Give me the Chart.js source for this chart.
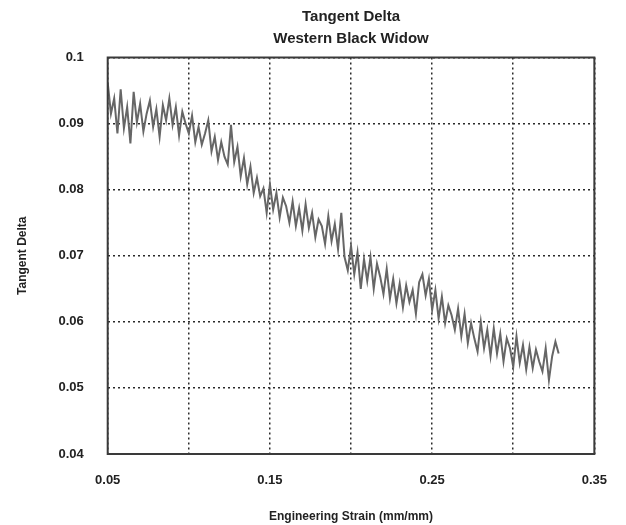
<!DOCTYPE html>
<html>
<head>
<meta charset="utf-8">
<script src="https://cdn.jsdelivr.net/npm/chart.js@4/dist/chart.umd.min.js"></script>
<style>
  html, body { margin: 0; padding: 0; background: #fff; }
  #wrap { width: 626px; height: 525px; }
</style>
</head>
<body>
<div id="wrap"><canvas id="chart"></canvas></div>
<script>
// engineering strain (mm/mm)
const strain = [
  0.050, 0.052, 0.054, 0.056, 0.058, 0.060, 0.062, 0.064, 0.066, 0.068,
  0.070, 0.072, 0.074, 0.076, 0.078, 0.080, 0.082, 0.084, 0.086, 0.088,
  0.090, 0.092, 0.094, 0.096, 0.098, 0.100, 0.102, 0.104, 0.106, 0.108,
  0.110, 0.112, 0.114, 0.116, 0.118, 0.120, 0.122, 0.124, 0.126, 0.128,
  0.130, 0.132, 0.134, 0.136, 0.138, 0.140, 0.142, 0.144, 0.146, 0.148,
  0.150, 0.152, 0.154, 0.156, 0.158, 0.160, 0.162, 0.164, 0.166, 0.168,
  0.170, 0.172, 0.174, 0.176, 0.178, 0.180, 0.182, 0.184, 0.186, 0.188,
  0.190, 0.192, 0.194, 0.196, 0.198, 0.200, 0.202, 0.204, 0.206, 0.208,
  0.210, 0.212, 0.214, 0.216, 0.218, 0.220, 0.222, 0.224, 0.226, 0.228,
  0.230, 0.232, 0.234, 0.236, 0.238, 0.240, 0.242, 0.244, 0.246, 0.248,
  0.250, 0.252, 0.254, 0.256, 0.258, 0.260, 0.262, 0.264, 0.266, 0.268,
  0.270, 0.272, 0.274, 0.276, 0.278, 0.280, 0.282, 0.284, 0.286, 0.288,
  0.290, 0.292, 0.294, 0.296, 0.298, 0.300, 0.302, 0.304, 0.306, 0.308,
  0.310, 0.312, 0.314, 0.316, 0.318, 0.320, 0.322, 0.324, 0.326, 0.328
];

// tangent delta values
const tanDelta = [
  0.0962, 0.0915, 0.0938, 0.0885, 0.0952, 0.0893, 0.0925, 0.0870, 0.0948, 0.0902,
  0.0930, 0.0888, 0.0915, 0.0935, 0.0895, 0.0922, 0.0880, 0.0928, 0.0905, 0.0938,
  0.0898, 0.0925, 0.0882, 0.0918, 0.0900, 0.0885, 0.0912, 0.0872, 0.0895, 0.0868,
  0.0885, 0.0905, 0.0858, 0.0880, 0.0845, 0.0872, 0.0850, 0.0838, 0.0898, 0.0842,
  0.0865, 0.0820, 0.0848, 0.0808, 0.0835, 0.0795, 0.0818, 0.0790, 0.0802, 0.0765,
  0.0808, 0.0770, 0.0795, 0.0758, 0.0788, 0.0775, 0.0750, 0.0782, 0.0745, 0.0772,
  0.0738, 0.0778, 0.0742, 0.0765, 0.0728, 0.0755, 0.0745, 0.0718, 0.0760, 0.0722,
  0.0748, 0.0710, 0.0765, 0.0698, 0.0678, 0.0715, 0.0672, 0.0705, 0.0650, 0.0695,
  0.0662, 0.0698, 0.0650, 0.0688, 0.0668, 0.0642, 0.0680, 0.0635, 0.0665, 0.0628,
  0.0658, 0.0622, 0.0655, 0.0630, 0.0648, 0.0612, 0.0660, 0.0672, 0.0640, 0.0665,
  0.0618, 0.0648, 0.0605, 0.0638, 0.0598, 0.0625, 0.0610, 0.0588, 0.0620, 0.0578,
  0.0612, 0.0568, 0.0598, 0.0575, 0.0555, 0.0600, 0.0560, 0.0588, 0.0548, 0.0590,
  0.0552, 0.0582, 0.0540, 0.0575, 0.0560, 0.0532, 0.0578, 0.0538, 0.0565, 0.0528,
  0.0562, 0.0530, 0.0558, 0.0540, 0.0525, 0.0560, 0.0512, 0.0548, 0.0570, 0.0552
];

// only every other x gridline gets a label
const xTickLabels = ['0.05', '0.15', '0.25', '0.35'];

const FONT = '"Liberation Sans", Arial, sans-serif';

// solid frame round the plot area
const frame = {
  id: 'frame',
  afterDatasetsDraw(chart) {
    const a = chart.chartArea;
    const ctx = chart.ctx;
    ctx.save();
    ctx.strokeStyle = '#3a3a3a';
    ctx.lineWidth = 2;
    ctx.strokeRect(a.left, a.top, a.right - a.left, a.bottom - a.top);
    ctx.restore();
  }
};

new Chart(document.getElementById('chart'), {
  type: 'line',
  data: {
    datasets: [{
      data: strain.map((x, i) => ({ x: x, y: tanDelta[i] })),
      borderColor: '#666',
      borderWidth: 2,
      pointRadius: 0,
      tension: 0
    }]
  },
  options: {
    responsive: true,
    maintainAspectRatio: false,
    animation: false,
    layout: { padding: { left: 15, right: 15, top: 4, bottom: 1 } },
    plugins: {
      legend: { display: false },
      tooltip: { enabled: false },
      title: {
        display: true,
        fullSize: false,
        text: ['Tangent Delta', 'Western Black Widow'],
        color: '#222',
        font: { family: FONT, size: 15, weight: 'bold', lineHeight: 1.45 },
        padding: { top: 2, bottom: 8 }
      }
    },
    scales: {
      x: {
        type: 'linear',
        min: 0.05,
        max: 0.35,
        border: { display: false, dash: [2, 3] },
        grid: { color: '#2a2a2a', lineWidth: 1.5, drawTicks: false },
        ticks: {
          stepSize: 0.05,
          padding: 19,
          color: '#222',
          maxRotation: 0,
          autoSkip: false,
          font: { family: FONT, size: 13, weight: 'bold' },
          callback: v => {
            const s = v.toFixed(2);
            return xTickLabels.includes(s) ? s : '';
          }
        },
        title: {
          display: true,
          text: 'Engineering Strain (mm/mm)',
          color: '#222',
          font: { family: FONT, size: 12, weight: 'bold' },
          padding: { top: 2, bottom: 0 }
        }
      },
      y: {
        min: 0.04,
        max: 0.1,
        border: { display: false, dash: [2, 3] },
        grid: { color: '#2a2a2a', lineWidth: 1.5, drawTicks: false },
        ticks: {
          stepSize: 0.01,
          padding: 24,
          color: '#222',
          font: { family: FONT, size: 13, weight: 'bold' },
          callback: v => String(+v.toFixed(2))
        },
        title: {
          display: true,
          text: 'Tangent Delta',
          color: '#222',
          font: { family: FONT, size: 12, weight: 'bold' },
          padding: { top: 0, bottom: 5 }
        }
      }
    }
  },
  plugins: [frame]
});
</script>
</body>
</html>
